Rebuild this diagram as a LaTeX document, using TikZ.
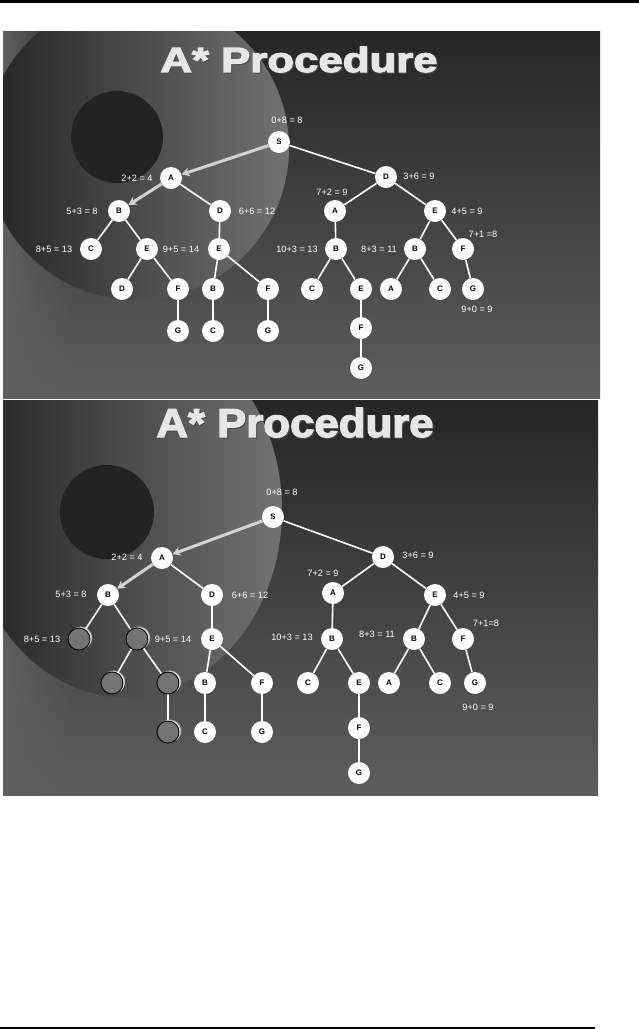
\documentclass[tikz,border=0pt]{standalone}
\usepackage{fontspec}
\usepackage{graphicx}
\setmainfont{Liberation Sans}
\newfontfamily\titlefont[FakeBold=3]{Liberation Sans}
\usetikzlibrary{arrows.meta,fadings,shadows}
\pgfdeclarelayer{bg}\pgfdeclarelayer{edges}\pgfsetlayers{bg,edges,main}
\definecolor{nodegray}{HTML}{747474}
\definecolor{bgtop}{HTML}{262626}
\definecolor{bgbot}{HTML}{5E5E5E}
\definecolor{cirL}{HTML}{242424}
\definecolor{cirR}{HTML}{727272}
\definecolor{darkc}{HTML}{232323}
\definecolor{strip}{HTML}{606060}
\definecolor{pathc}{HTML}{D2D2D2}
\definecolor{ttlc}{HTML}{E6E6E6}
\begin{document}
\begin{tikzpicture}[x=1pt,y=-1pt,
 nd/.style={circle,fill=white,minimum size=22pt,inner sep=0pt,font=\bfseries\fontsize{8}{8}\selectfont},
 gn/.style={circle,fill=nodegray,draw=black,line width=0.9pt,minimum size=22pt,inner sep=0pt,
   circular drop shadow={shadow xshift=1.2pt,shadow yshift=1.2pt,fill=white,opacity=0.9}},
 lb/.style={text=white,font=\fontsize{9.2}{10}\selectfont,inner sep=0pt},
 ed/.style={white,line width=1.6pt},
 pa/.style={draw=pathc,line width=3pt,-{Stealth[length=8pt,width=9pt]}},
 ttl/.style={text=ttlc,font=\titlefont\bfseries\fontsize{35}{35}\selectfont,inner sep=0pt,anchor=base},
 ttls/.style={text=black!70,font=\titlefont\bfseries\fontsize{35}{35}\selectfont,inner sep=0pt,anchor=base}]
\useasboundingbox (0,0) rectangle (639,1029);

% ===== panel backgrounds =====
\begin{pgfonlayer}{bg}
\fill[white] (0,0) rectangle (639,1029);
\fill[black] (0,0) rectangle (639,3);
\fill[black] (0,1026.5) rectangle (595,1029);
\shade[top color=bgtop,bottom color=bgbot] (3,31) rectangle (600,398);
\begin{scope}
\clip (3,31) rectangle (600,398);
\fill[strip,path fading=east] (3,31) rectangle (75,398);
\shade[left color=cirL,right color=cirR] (137,148) circle[radius=152pt];
\fill[darkc] (117,137) circle[radius=46pt];
\end{scope}
\shade[top color=bgtop,bottom color=bgbot] (3,400) rectangle (598,795);
\begin{scope}
\clip (3,400) rectangle (598,795);
\fill[strip,path fading=east] (3,400) rectangle (75,795);
\shade[left color=cirL,right color=cirR] (125,510) ellipse[x radius=157pt,y radius=187pt];
\fill[darkc] (107,512) circle[radius=47pt];
\end{scope}
\end{pgfonlayer}

% ===== titles =====
\node[ttls] (t1s) at (300,73) {\scalebox{1.25}[1]{A* Procedure}};
\node[ttl] (t1) at (299,72) {\scalebox{1.25}[1]{A* Procedure}};
\node[ttls] (t2s) at (296,438) {\scalebox{1.25}[1.15]{A* Procedure}};
\node[ttl] (t2) at (295,437) {\scalebox{1.25}[1.15]{A* Procedure}};

% ===== panel 1 tree =====
\node[nd] (aS) at (279,142) {S};
\node[nd] (aA1) at (171,178) {A};
\node[nd] (aD1) at (386,177) {D};
\node[nd] (aB1) at (119,211) {B};
\node[nd] (aD2) at (220,211) {D};
\node[nd] (aA2) at (335,211) {A};
\node[nd] (aE1) at (435,211) {E};
\node[nd] (aC1) at (91,249) {C};
\node[nd] (aE2) at (147,249) {E};
\node[nd] (aE3) at (219,249) {E};
\node[nd] (aB2) at (336,249) {B};
\node[nd] (aB3) at (415,249) {B};
\node[nd] (aF1) at (463,249) {F};
\node[nd] (aD3) at (122,289) {D};
\node[nd] (aF2) at (178,289) {F};
\node[nd] (aB4) at (213,289) {B};
\node[nd] (aF3) at (268,289) {F};
\node[nd] (aC2) at (312,289) {C};
\node[nd] (aE4) at (361,289) {E};
\node[nd] (aA3) at (391,289) {A};
\node[nd] (aC3) at (440,289) {C};
\node[nd] (aG1) at (473,289) {G};
\node[nd] (aG2) at (178,331) {G};
\node[nd] (aC4) at (213,331) {C};
\node[nd] (aG3) at (268,331) {G};
\node[nd] (aF4) at (361,328) {F};
\node[nd] (aG4) at (361,368) {G};

\node[lb] (al1) at (287,120) {0+8 = 8};
\node[lb] (al2) at (137,178) {2+2 = 4};
\node[lb] (al3) at (419,176) {3+6 = 9};
\node[lb] (al4) at (82,211) {5+3 = 8};
\node[lb] (al5) at (257,211) {6+6 = 12};
\node[lb] (al6) at (332,192) {7+2 = 9};
\node[lb] (al7) at (467,211) {4+5 = 9};
\node[lb] (al8) at (54,249) {8+5 = 13};
\node[lb] (al9) at (181,249) {9+5 = 14};
\node[lb] (al10) at (297,249) {10+3 = 13};
\node[lb] (al11) at (379,249) {8+3 = 11};
\node[lb] (al12) at (483,234) {7+1 =8};
\node[lb] (al13) at (477,309) {9+0 = 9};

% ===== panel 2 tree =====
\node[nd] (bS) at (273,517) {S};
\node[nd] (bA1) at (162,558) {A};
\node[nd] (bD1) at (383,557) {D};
\node[nd] (bB1) at (108,595) {B};
\node[nd] (bD2) at (212,595) {D};
\node[nd] (bA2) at (333,593) {A};
\node[nd] (bE1) at (435,595) {E};
\node[gn] (bC1) at (79,639) {};
\node[gn] (bE2) at (137,639) {};
\node[nd] (bE3) at (212,639) {E};
\node[nd] (bB2) at (332,639) {B};
\node[nd] (bB3) at (414,639) {B};
\node[nd] (bF1) at (463,639) {F};
\node[gn] (bD3) at (112,683) {};
\node[gn] (bF2) at (168,683) {};
\node[nd] (bB4) at (205,683) {B};
\node[nd] (bF3) at (262,683) {F};
\node[nd] (bC2) at (308,683) {C};
\node[nd] (bE4) at (359,683) {E};
\node[nd] (bA3) at (389,683) {A};
\node[nd] (bC3) at (440,683) {C};
\node[nd] (bG1) at (475,683) {G};
\node[gn] (bG2) at (168,732) {};
\node[nd] (bC4) at (205,732) {C};
\node[nd] (bG3) at (262,732) {G};
\node[nd] (bF4) at (359,728) {F};
\node[nd] (bG4) at (359,773) {G};

\node[lb] (bl1) at (282,492) {0+8 = 8};
\node[lb] (bl2) at (127,557) {2+2 = 4};
\node[lb] (bl3) at (418,555) {3+6 = 9};
\node[lb] (bl4) at (71,594) {5+3 = 8};
\node[lb] (bl5) at (250,595) {6+6 = 12};
\node[lb] (bl6) at (323,573) {7+2 = 9};
\node[lb] (bl7) at (469,595) {4+5 = 9};
\node[lb] (bl8) at (42,639) {8+5 = 13};
\node[lb] (bl9) at (173,639) {9+5 = 14};
\node[lb] (bl10) at (292,637) {10+3 = 13};
\node[lb] (bl11) at (377,634) {8+3 = 11};
\node[lb] (bl12) at (486,623) {7+1=8};
\node[lb] (bl13) at (478,707) {9+0 = 9};

% ===== edges =====
\begin{pgfonlayer}{edges}
\foreach \p in {a,b}{
  \foreach \u/\v in {S/D1,A1/D2,D1/A2,D1/E1,B1/C1,B1/E2,D2/E3,A2/B2,E1/B3,E1/F1,
                     E2/D3,E2/F2,E3/B4,E3/F3,B2/C2,B2/E4,B3/A3,B3/C3,F1/G1,
                     F2/G2,B4/C4,F3/G3,E4/F4,F4/G4}{
    \draw[ed] (\p\u) -- (\p\v);
  }
}
\end{pgfonlayer}
\draw[pa] (aS) -- (aA1);
\draw[pa] (aA1) -- (aB1);
\draw[pa] (bS) -- (bA1);
\draw[pa] (bA1) -- (bB1);
\end{tikzpicture}
\end{document}
